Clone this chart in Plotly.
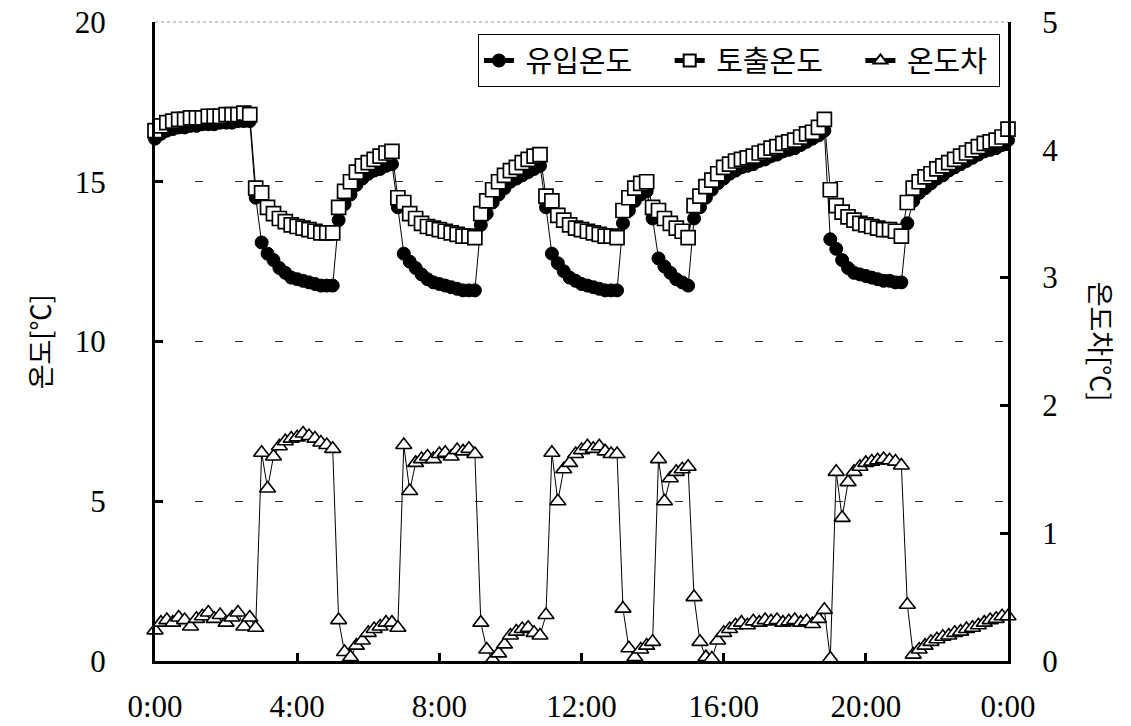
import plotly.graph_objects as go

# Sampling times (minutes after midnight), every 10 minutes over one day
time_min = list(range(0, 1441, 10))

# 유입온도 (inlet temperature, °C)
inlet_temp = [
    16.35, 16.5, 16.6, 16.65, 16.7, 16.7, 16.75, 16.75, 16.8, 16.8, 16.8, 16.85, 16.85, 16.85, 16.9, 16.9, 16.9,
    14.5, 13.1, 12.75, 12.55, 12.3, 12.15, 12.0, 11.95, 11.9, 11.85, 11.8, 11.75, 11.75, 11.75,
    13.8, 14.3, 14.6, 14.9, 15.1, 15.25, 15.35, 15.4, 15.5, 15.55,
    14.2, 12.75, 12.5, 12.3, 12.1, 11.95, 11.85, 11.8, 11.75, 11.7, 11.65, 11.6, 11.6, 11.6,
    13.65, 14.0, 14.35, 14.6, 14.8, 15.0, 15.1, 15.2, 15.3, 15.4, 15.5,
    14.2, 12.75, 12.45, 12.2, 12.0, 11.9, 11.8, 11.75, 11.7, 11.65, 11.6, 11.6, 11.6,
    13.7, 14.1, 14.4, 14.6, 14.7,
    13.85, 12.6, 12.35, 12.15, 11.95, 11.85, 11.75,
    13.85, 14.2, 14.5, 14.75, 14.95, 15.1, 15.25, 15.35, 15.45, 15.5, 15.55, 15.65, 15.7, 15.8, 15.85,
    15.95, 16.0, 16.05, 16.15, 16.25, 16.35, 16.45, 16.6,
    13.2, 12.9, 12.55, 12.3, 12.15, 12.1, 12.05, 12.0, 11.95, 11.9, 11.9, 11.85, 11.85,
    13.7, 14.4, 14.65, 14.8, 14.95, 15.1, 15.2, 15.35, 15.45, 15.55, 15.65, 15.75, 15.85, 15.95, 16.0,
    16.05, 16.15, 16.3,
]

# 토출온도 (outlet temperature, °C)
outlet_temp = [
    16.6, 16.75, 16.85, 16.9, 16.95, 16.95, 17.0, 17.0, 17.0, 17.05, 17.05, 17.05, 17.1, 17.1, 17.1, 17.15, 17.1,
    14.8, 14.65, 14.2, 14.0, 13.85, 13.75, 13.65, 13.6, 13.55, 13.5, 13.45, 13.4, 13.4, 13.4,
    14.2, 14.7, 15.0, 15.3, 15.5, 15.6, 15.7, 15.8, 15.9, 15.95,
    14.5, 14.35, 14.0, 13.85, 13.7, 13.6, 13.55, 13.5, 13.45, 13.4, 13.35, 13.3, 13.3, 13.25,
    14.0, 14.4, 14.75, 15.0, 15.2, 15.35, 15.45, 15.6, 15.7, 15.8, 15.85,
    14.55, 14.4, 13.95, 13.8, 13.65, 13.55, 13.5, 13.45, 13.4, 13.35, 13.3, 13.3, 13.25,
    14.1, 14.5, 14.8, 14.95, 15.0,
    14.2, 14.1, 13.85, 13.7, 13.55, 13.45, 13.25,
    14.25, 14.55, 14.85, 15.05, 15.25, 15.45, 15.55, 15.65, 15.7, 15.75, 15.8, 15.9, 15.95, 16.05, 16.1,
    16.2, 16.25, 16.3, 16.4, 16.5, 16.55, 16.7, 16.95,
    14.75, 14.25, 14.05, 13.9, 13.8, 13.7, 13.65, 13.6, 13.55, 13.5, 13.5, 13.45, 13.3,
    14.35, 14.8, 15.0, 15.15, 15.25, 15.4, 15.5, 15.6, 15.7, 15.8, 15.9, 16.0, 16.1, 16.2, 16.25,
    16.3, 16.4, 16.65,
]

# 온도차 (temperature difference, °C, right axis)
temp_diff = [
    0.24, 0.3, 0.32, 0.3, 0.34, 0.32, 0.27, 0.33, 0.35, 0.38, 0.33, 0.36, 0.3, 0.34, 0.38, 0.27, 0.34, 0.26,
    1.63, 1.35, 1.6, 1.68, 1.72, 1.74, 1.75, 1.78, 1.76, 1.74, 1.71, 1.69, 1.66,
    0.32, 0.07, 0.03, 0.12, 0.16, 0.22, 0.25, 0.27, 0.3, 0.3, 0.26,
    1.69, 1.33, 1.55, 1.58, 1.6, 1.58, 1.62, 1.63, 1.6, 1.65, 1.64, 1.66, 1.62,
    0.3, 0.09, 0.01, 0.06, 0.13, 0.2, 0.23, 0.25, 0.26, 0.22, 0.2, 0.36,
    1.63, 1.25, 1.5, 1.55, 1.62, 1.65, 1.68, 1.66, 1.68, 1.64, 1.62, 1.62,
    0.41, 0.1, 0.03, 0.09, 0.12, 0.15,
    1.58, 1.25, 1.43, 1.48, 1.5, 1.52,
    0.5, 0.15, 0.03, 0.02, 0.16, 0.22, 0.25, 0.28, 0.3, 0.28, 0.31, 0.3, 0.32, 0.31, 0.32, 0.3,
    0.31, 0.32, 0.3, 0.31, 0.29, 0.33, 0.4, 0.02,
    1.48, 1.12, 1.4, 1.48, 1.52, 1.55, 1.56, 1.57, 1.58, 1.57, 1.56, 1.53,
    0.44, 0.05, 0.09, 0.12, 0.15, 0.17, 0.19, 0.2, 0.22, 0.23, 0.25, 0.26, 0.28, 0.3, 0.32, 0.33,
    0.35, 0.35,
]

x_tick_vals = [0, 240, 480, 720, 960, 1200, 1440]
x_tick_text = ["0:00", "4:00", "8:00", "12:00", "16:00", "20:00", "0:00"]
left_ticks = [0, 5, 10, 15, 20]
right_ticks = [0, 1, 2, 3, 4, 5]

SERIF = "Liberation Serif"
SANS = "Noto Sans CJK KR"
LINE = dict(color="black", width=1)
NB = "\u00a0"  # non-breaking spaces widen the legend entries

fig = go.Figure()
fig.add_trace(go.Scatter(
    x=time_min, y=inlet_temp, name=NB + "유입온도" + NB * 5, mode="lines+markers",
    line=LINE, cliponaxis=False,
    marker=dict(symbol="circle", size=13, color="black", line=dict(color="black", width=1)),
))
fig.add_trace(go.Scatter(
    x=time_min, y=outlet_temp, name=NB + "토출온도" + NB * 5, mode="lines+markers",
    line=LINE, cliponaxis=False,
    marker=dict(symbol="square", size=14, color="white", line=dict(color="black", width=1.7)),
))
fig.add_trace(go.Scatter(
    x=time_min, y=temp_diff, name=NB + "온도차" + NB, mode="lines+markers", yaxis="y2",
    line=LINE, cliponaxis=False,
    marker=dict(symbol="triangle-up", size=14, color="white", line=dict(color="black", width=1.6)),
))

fig.update_layout(
    width=1131, height=726,
    margin=dict(l=155, r=123, t=22, b=65),
    paper_bgcolor="white", plot_bgcolor="white",
    font=dict(family=SERIF, color="black"),
    showlegend=True,
    legend=dict(
        orientation="h", x=0.9906, xanchor="right", y=0.981, yanchor="top",
        bgcolor="white", bordercolor="black", borderwidth=1,
        font=dict(family=SANS, size=29, color="black"),
        itemsizing="constant", tracegroupgap=0,
    ),
    xaxis=dict(
        range=[0, 1440], tickmode="array", tickvals=x_tick_vals, ticktext=x_tick_text,
        ticks="inside", ticklen=8, tickwidth=3, tickcolor="black",
        showline=True, linecolor="black", linewidth=3, showgrid=False, zeroline=False,
        tickfont=dict(family=SERIF, size=31), ticklabelstandoff=16, automargin=False,
    ),
    yaxis=dict(
        range=[0, 20], tickmode="array", tickvals=left_ticks,
        ticks="inside", ticklen=8, tickwidth=3, tickcolor="black",
        showline=True, linecolor="black", linewidth=3, zeroline=False,
        showgrid=True, gridcolor="#333333", gridwidth=1, griddash="8px,32px",
        tickfont=dict(family=SERIF, size=31), ticklabelstandoff=40, automargin=False,
    ),
    yaxis2=dict(
        range=[0, 5], tickmode="array", tickvals=right_ticks, overlaying="y", side="right",
        ticks="inside", ticklen=8, tickwidth=3, tickcolor="black",
        showline=True, linecolor="black", linewidth=3, zeroline=False, showgrid=False,
        tickfont=dict(family=SERIF, size=31), ticklabelstandoff=25, automargin=False,
    ),
)

# Faint top border of the plotting area
fig.add_shape(type="line", xref="paper", yref="paper", x0=0, x1=1, y0=1, y1=1,
              line=dict(color="#999999", width=1, dash="dot"))

# Axis titles
fig.add_annotation(text="온도[℃]", xref="paper", yref="paper", x=-0.135, y=0.5,
                   xanchor="center", yanchor="middle",
                   textangle=-90, showarrow=False, font=dict(family=SANS, size=27, color="black"))
fig.add_annotation(text="온도차[℃]", xref="paper", yref="paper", x=1.11, y=0.5,
                   xanchor="center", yanchor="middle",
                   textangle=90, showarrow=False, font=dict(family=SANS, size=27, color="black"))

fig.write_html("out.html")
